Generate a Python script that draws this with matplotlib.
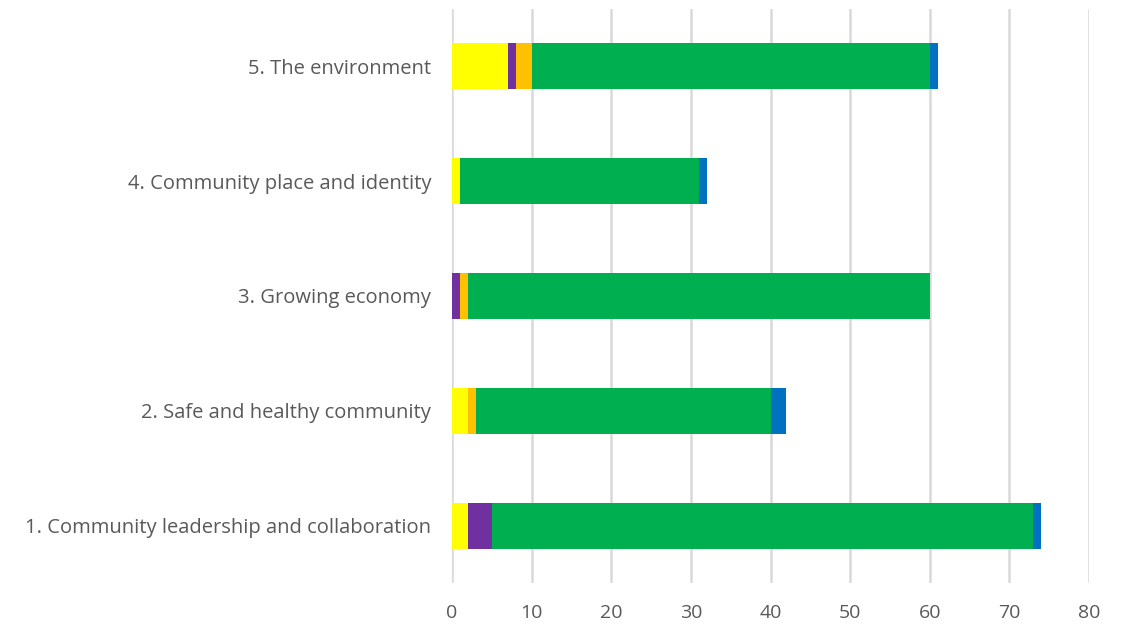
import numpy as np
import matplotlib.pyplot as plt

categories = ["1. Community leadership and collaboration",
              "2. Safe and healthy community",
              "3. Growing economy",
              "4. Community place and identity",
              "5. The environment"]

# segment values per category (bottom to top order of categories)
yellow = [2, 2, 0, 1, 7]
purple = [3, 0, 1, 0, 1]
orange = [0, 1, 1, 0, 2]
green = [68, 37, 58, 30, 50]
blue = [1, 2, 0, 1, 1]

series = [yellow, purple, orange, green, blue]
colors = ["#FFFF00", "#7030A0", "#FFC000", "#00B050", "#0070C0"]

fig = plt.figure(figsize=(11.26, 6.27), dpi=100)
ax = fig.add_axes([452 / 1126, 1 - 583 / 627, (1089 - 452) / 1126, (583 - 9) / 627])

y = np.arange(len(categories))
left = np.zeros(len(categories))
for vals, c in zip(series, colors):
    ax.barh(y, vals, left=left, height=0.4, color=c, zorder=3)
    left += np.array(vals)

ax.set_xlim(0, 80)
ax.set_ylim(-0.5, 4.5)
ax.set_xticks(range(0, 81, 10))
ax.set_yticks(y)
ax.set_yticklabels(categories)
ax.xaxis.grid(True, color="#D9D9D9", linewidth=1.8, zorder=0)
for s in ax.spines.values():
    s.set_visible(False)
ax.tick_params(axis="both", length=0, colors="#595959")
ax.tick_params(axis="x", pad=15, labelsize=14)
ax.tick_params(axis="y", pad=15, labelsize=14.5)
for lbl in ax.get_xticklabels() + ax.get_yticklabels():
    lbl.set_fontfamily("Open Sans")

fig.savefig("out.png", dpi=100)
